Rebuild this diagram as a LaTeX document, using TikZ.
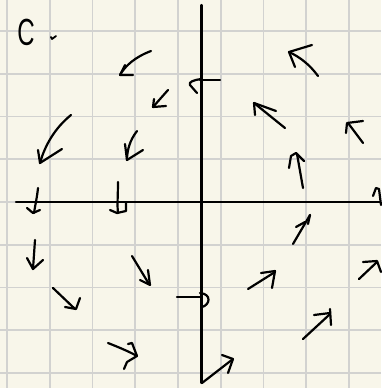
\documentclass[tikz,border=0pt]{standalone}
\usepackage{fontspec}
\setsansfont{Liberation Sans}
\definecolor{paper}{RGB}{248,246,234}
\definecolor{gridc}{RGB}{210,210,208}
\begin{document}
\begin{tikzpicture}[x=1pt,y=-1pt,
  pen/.style={line width=2.2pt,line cap=round,line join=round,black},
  axis/.style={line width=2.2pt,line cap=round,black},
  gridline/.style={line width=1.7pt,gridc}]
\fill[paper] (0,0) rectangle (381,388);
\useasboundingbox (0,0) rectangle (381,388);
% grid
\foreach \i in {0,...,8} {
  \draw[gridline] ({7+42.75*\i},0) -- ({7+42.75*\i},388);
  \draw[gridline] (0,{31+42.75*\i}) -- (381,{31+42.75*\i});
}
% axes
\draw[axis] (201.5,5) -- (201.5,383);
\draw[axis] (16,201.7) -- (380,201.7);
% label
\node[font=\sffamily\fontsize{30}{30}\selectfont,inner sep=0pt,transform shape,xscale=0.8,yscale=-1.25] (lbl) at (26,32) {C};
\draw[pen,line width=1.8pt] (51,37) -- (52,39) -- (56,36);
% upper left
\draw[pen] (151,51) .. controls (135,57) and (125,66) .. (120,75);
\draw[pen] (125,65) -- (120,75) -- (133,75);
\draw[pen] (168,90) -- (153,107);
\draw[pen] (154,99) -- (153,107) -- (166,106);
\draw[pen] (71,115) .. controls (55,128) and (45,145) .. (40,163);
\draw[pen] (38,150) -- (40,163) -- (62,149);
\draw[pen] (137,131) .. controls (130,140) and (127,150) .. (127,160);
\draw[pen] (125,144) -- (127,160) -- (143,150);
% near x-axis left
\draw[pen] (38,188) .. controls (37,198) and (35,206) .. (34,213);
\draw[pen] (27,208) -- (33,213) -- (40,210);
\draw[pen] (118,182) .. controls (118,195) and (117,205) .. (118,213);
\draw[pen] (110,210) -- (117,213) -- (126,211) -- (126,203);
% lower left
\draw[pen] (35,240) -- (33,269);
\draw[pen] (27,258) -- (33,269) -- (43,260);
\draw[pen] (132,256) -- (149,284);
\draw[pen] (140,280) -- (150,285) -- (148,270);
\draw[pen] (53,288) -- (74,308);
\draw[pen] (65,307) -- (76,309) -- (80,298);
\draw[pen] (108,343) .. controls (118,347) and (128,351) .. (137,356);
\draw[pen] (128,344) -- (132,343) -- (137,356) -- (127,362) -- (124,369);
% ticks on y-axis
\draw[pen] (200,80) -- (220,80);
\draw[pen] (201,79) .. controls (194,80) and (188,82) .. (190,85) -- (197,93);
\draw[pen] (177,297) -- (200,297);
\draw[pen] (200,293) .. controls (212,294) and (210,305) .. (202,307);
% upper right
\draw[pen] (318,76) .. controls (310,65) and (300,57) .. (289,52);
\draw[pen] (295,67) -- (289,52) -- (312,45);
\draw[pen] (285,128) -- (254,103);
\draw[pen] (255,115) -- (254,103) -- (276,111);
\draw[pen] (363,143) -- (348,123);
\draw[pen] (346,133) -- (347,123) -- (363,121);
\draw[pen] (303,188) -- (297,154);
\draw[pen] (289,168) -- (291,156) -- (296,153) -- (304,161);
\draw[pen] (373,196) -- (376,188) -- (379,189) -- (381,205);
% lower right
\draw[pen] (293,244) -- (310,215);
\draw[pen] (296,227) -- (305,222);
\draw[pen] (310,215) -- (308,224);
\draw[pen] (248,289) -- (275,272);
\draw[pen] (261,273) -- (275,271) -- (272,288);
\draw[pen] (359,279) -- (377,262);
\draw[pen] (363,262) -- (377,261) -- (381,272);
\draw[pen] (303,339) -- (329,315);
\draw[pen] (314,315) -- (330,313);
\draw[pen] (330,309) -- (331,325);
\draw[pen] (202,383) -- (233,359);
\draw[pen] (222,355) -- (233,359) -- (228,373);
\end{tikzpicture}
\end{document}
